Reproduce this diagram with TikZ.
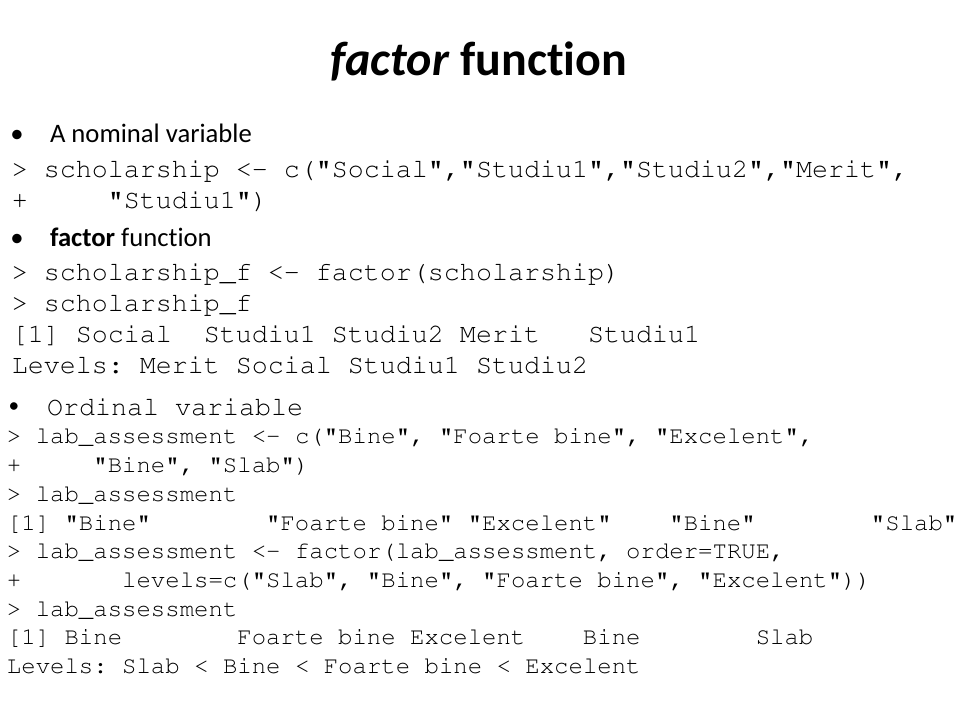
\documentclass[tikz,border=0pt]{standalone}
\usepackage[T1]{fontenc}
\usepackage{fontspec}
\setmainfont{Carlito}[Ligatures={NoCommon}]
\newcommand\courpcr{\fontencoding{T1}\fontfamily{pcr}\fontseries{m}\fontshape{n}}
\newcommand\codeA{\courpcr\fontsize{20pt}{24pt}\selectfont\frenchspacing}
\newcommand\codeB{\courpcr\fontsize{18pt}{22pt}\selectfont\frenchspacing}
\newcommand\bulA{\fontsize{20pt}{24pt}\selectfont}
\tikzset{
  codea/.style={anchor=base west, inner sep=0pt, outer sep=0pt, font=\codeA},
  codeb/.style={anchor=base west, inner sep=0pt, outer sep=0pt, font=\codeB},
  bultext/.style={anchor=base west, inner sep=0pt, outer sep=0pt, font=\bulA},
  bulmark/.style={anchor=base, inner sep=0pt, outer sep=0pt, font=\bulA},
}
\begin{document}
\begin{tikzpicture}[x=0.75pt,y=-0.75pt]
\useasboundingbox[fill=white] (0,0) rectangle (960,720);
% title
\node[anchor=base, inner sep=0pt, font=\fontsize{36pt}{43pt}\selectfont\bfseries] (title) at (479,76) {\textit{factor} function};
% first bullet
\node[bulmark] (b1) at (17,143) {•};
\node[bultext] (t1) at (50,143) {A nominal variable};
\node[codea] (a1) at (12,178) {> scholarship <- c("Social","Studiu1","Studiu2","Merit",};
\node[codea] (a2) at (12,209) {+~~~~~"Studiu1")};
% second bullet
\node[bulmark] (b2) at (17,247) {•};
\node[bultext] (t2) at (50,247) {\textbf{factor} function};
\node[codea] (a3) at (12,281) {> scholarship\_f <- factor(scholarship)};
\node[codea] (a4) at (12,311) {> scholarship\_f};
\node[codea] (a5) at (12,342) {[1]~Social~~Studiu1~Studiu2~Merit~~~Studiu1};
\node[codea] (a6) at (12,373) {Levels: Merit Social Studiu1 Studiu2};
% third bullet
\node[bulmark, font=\fontsize{16pt}{19pt}\selectfont] (b3) at (14,412) {•};
\node[codea] (t3) at (47,415) {Ordinal variable};
\node[codeb] (c1) at (7,443) {> lab\_assessment <- c("Bine", "Foarte bine", "Excelent",};
\node[codeb] (c2) at (7,472) {+~~~~~"Bine", "Slab")};
\node[codeb] (c3) at (7,501) {> lab\_assessment};
\node[codeb] (c4) at (7,530) {[1]~"Bine"~~~~~~~~"Foarte~bine"~"Excelent"~~~~"Bine"~~~~~~~~"Slab"};
\node[codeb] (c5) at (7,558) {> lab\_assessment <- factor(lab\_assessment, order=TRUE,};
\node[codeb] (c6) at (7,587) {+~~~~~~~levels=c("Slab", "Bine", "Foarte bine", "Excelent"))};
\node[codeb] (c7) at (7,616) {> lab\_assessment};
\node[codeb] (c8) at (7,644) {[1]~Bine~~~~~~~~Foarte~bine~Excelent~~~~Bine~~~~~~~~Slab};
\node[codeb] (c9) at (7,673) {Levels: Slab < Bine < Foarte bine < Excelent};
\end{tikzpicture}
\end{document}
